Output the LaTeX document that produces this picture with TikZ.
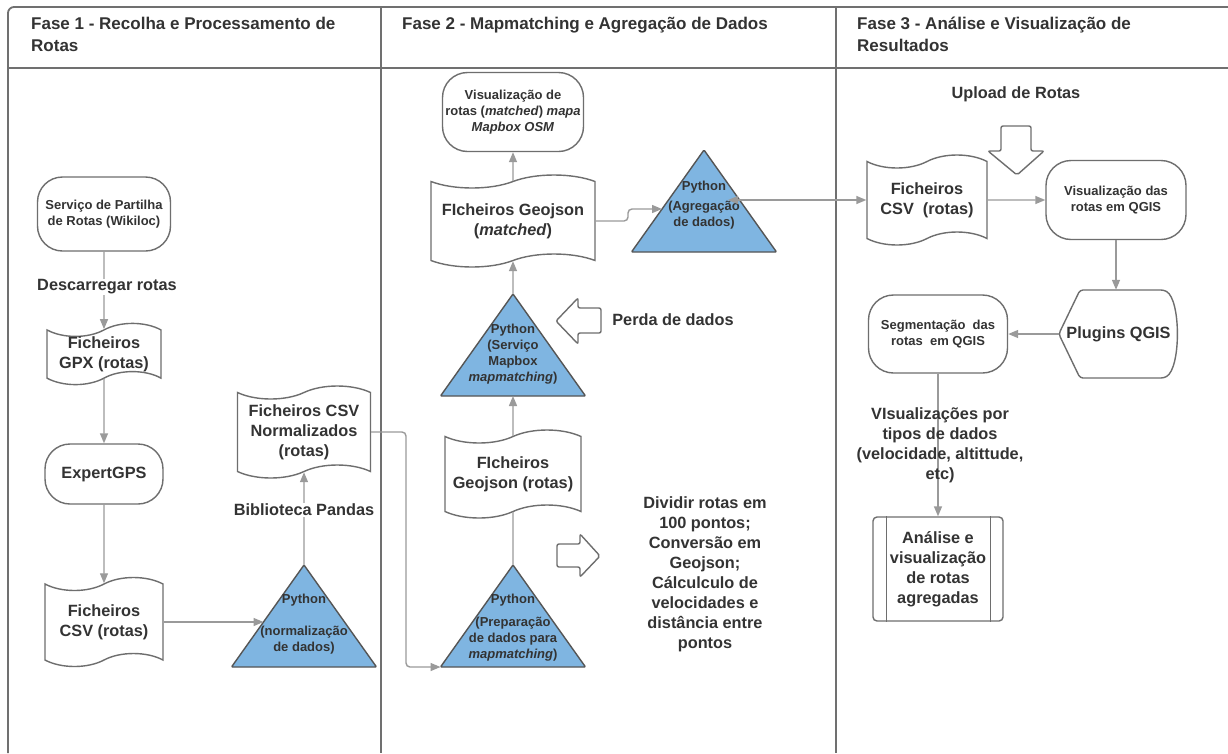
\documentclass[tikz,border=0pt]{standalone}
\usepackage{fontspec}
\setmainfont{Liberation Sans}
\usetikzlibrary{shapes.symbols,shapes.misc,arrows.meta,calc}
\definecolor{txt}{HTML}{333333}
\definecolor{edge}{HTML}{6E6E6E}
\definecolor{tedge}{HTML}{555555}
\definecolor{conn}{HTML}{9A9A9A}
\definecolor{frm}{HTML}{707070}
\definecolor{tfill}{HTML}{7FB5E1}
\tikzset{
  big/.style={font=\fontsize{16.3}{20}\selectfont\bfseries, text=txt, align=center},
  small/.style={font=\fontsize{13}{16}\selectfont\bfseries, text=txt, align=center},
  hdr/.style={font=\fontsize{17}{22}\selectfont\bfseries, text=txt, align=left, anchor=north west, inner sep=0pt},
  term/.style={draw=edge, line width=1.4pt, rounded corners=25pt, fill=white, inner sep=0pt},
  paper/.style={tape, draw=edge, line width=1.4pt, tape bend height=13pt, fill=white, inner sep=0pt},
  tri/.style={draw=tedge, fill=tfill, line width=1.4pt, rounded corners=1pt},
  blockarr/.style={draw=edge, fill=white, line width=1.4pt, rounded corners=2pt},
  arr/.style={draw=conn, line width=1.4pt, -{Triangle[length=10pt,width=8pt]}},
  ln/.style={draw=conn, line width=1.4pt},
  frame/.style={draw=frm, line width=1.8pt},
}
\newcommand\mytri[3]{%
  \coordinate (#1-t) at (#2,#3);
  \coordinate (#1-l) at ($(#2,#3)+(-72.5,102)$);
  \coordinate (#1-r) at ($(#2,#3)+(72.5,102)$);
  \coordinate (#1-b) at ($(#2,#3)+(0,102)$);
  \draw[tri] (#1-t) -- (#1-l) -- (#1-r) -- cycle;
}
\begin{document}
\begin{tikzpicture}[x=1pt,y=-1pt]
\useasboundingbox (0,0) rectangle (1228,753);
\fill[white] (0,0) rectangle (1228,753);
% frame
\draw[frame, rounded corners=6pt] (1228,7) -- (8,7) -- (8,753);
\draw[frame] (8,68) -- (1228,68);
\draw[frame] (381,7) -- (381,753);
\draw[frame] (836,7) -- (836,753);
\node[hdr] (h1) at (31,16.5) {Fase 1 - Recolha e Processamento de\\Rotas};
\node[hdr] (h2) at (402,16.5) {Fase 2 - Mapmatching e Agregação de Dados};
\node[hdr] (h3) at (857,16.5) {Fase 3 - Análise e Visualização de\\Resultados};

% ---------- Phase 1
\node[term, small, minimum width=133pt, minimum height=74pt] (serv) at (104,214) {Serviço de Partilha\\de Rotas (Wikiloc)};
\node[paper, big, minimum width=114pt, minimum height=58pt] (gpx) at (104,354) {Ficheiros\\GPX (rotas)};
\node[term, big, minimum width=118pt, minimum height=60pt] (exp) at (104,474) {ExpertGPS};
\node[paper, big, minimum width=118pt, minimum height=89pt] (csv1) at (104,622) {Ficheiros\\CSV (rotas)};
\mytri{t1}{304}{565}
\node[small] (p1) at (304,624) {Python\\[16pt](normalização\\de dados)};
\coordinate (t1-in) at (263.5,622);
\node[paper, big, minimum width=133pt, minimum height=92pt] (csvn) at (304,432) {Ficheiros CSV\\Normalizados\\(rotas)};

% ---------- Phase 2
\mytri{t2}{513}{565}
\node[small] (p2) at (513,627.5) {Python\\[7pt](Preparação\\de dados para\\\textit{mapmatching})};
\node[paper, big, minimum width=136pt, minimum height=88pt] (geo1) at (513,474) {FIcheiros\\Geojson (rotas)};
\mytri{t3}{513}{294}
\node[small] (p3) at (513,354) {Python\\(Serviço\\Mapbox\\\textit{mapmatching})};
\node[paper, big, minimum width=164pt, minimum height=92pt] (geom) at (513,221) {FIcheiros Geojson\\(\textit{matched})};
\node[term, small, minimum width=141pt, minimum height=79pt] (vis1) at (513,112) {Visualização de\\rotas (\textit{matched}) \textit{mapa}\\\textit{Mapbox OSM}};
\mytri{t4}{704}{150}
\node[small] (p4) at (704,205) {Python\\[4pt](Agregação\\de dados)};
\coordinate (t4-in) at (662,209);
\coordinate (t4-x) at (728,200);

% block arrows
\draw[blockarr] (556,321) -- (578,298) -- (578,308) -- (601,308) -- (601,333) -- (578,333) -- (578,344) -- cycle;
\node[big] (perda) at (673,320) {Perda de dados};
\draw[blockarr] (557,544) -- (580,544) -- (580,534) -- (600,556) -- (580,577) -- (580,567) -- (557,567) -- cycle;
\node[big] (div) at (705,574) {Dividir rotas em\\100 pontos;\\Conversão em\\Geojson;\\Cálculculo de\\velocidades e\\distância entre\\pontos};

% ---------- Phase 3
\node[big] (upl) at (1016,94) {Upload de Rotas};
\draw[blockarr] (1001,126) -- (1031,126) -- (1031,151) -- (1044,151) -- (1017,175) -- (988,151) -- (1001,151) -- cycle;
\node[paper, big, minimum width=120pt, minimum height=90pt] (csv3) at (927,200) {Ficheiros\\CSV~~(rotas)};
\node[term, small, minimum width=140pt, minimum height=79pt] (vis3) at (1116,200) {Visualização das\\rotas em QGIS};
\node[big, minimum width=119pt, minimum height=88pt, inner sep=0pt] (plug) at (1118.5,334) {Plugins QGIS};
\draw[draw=edge, line width=1.4pt, rounded corners=3pt] (plug.west) -- (1080,290) -- (1164,290)
  .. controls (1181,300) and (1181,368) .. (1164,378) -- (1080,378) -- cycle;
\node[term, small, minimum width=139pt, minimum height=78pt] (seg) at (938,334) {Segmentação~~das\\rotas~~em QGIS};
\node[draw=edge, line width=1.4pt, rounded corners=4pt, minimum width=130pt, minimum height=104pt, big, inner sep=0pt] (ana) at (938,569) {Análise e\\visualização\\de rotas\\agregadas};
\draw[draw=edge, line width=1.4pt] ($(ana.north west)+(14,0)$) -- ($(ana.south west)+(14,0)$);
\draw[draw=edge, line width=1.4pt] ($(ana.north east)+(-13,0)$) -- ($(ana.south east)+(-13,0)$);

% ---------- connectors
\draw[arr] (serv) -- (gpx);
\node[big, fill=white, inner sep=1pt] (l1) at (107,287) {Descarregar rotas};
\draw[arr] (gpx) -- (exp);
\draw[arr] (exp) -- (csv1);
\draw[arr] (csv1.east) -- (t1-in);
\draw[arr] (t1-t) -- (csvn);
\node[big, fill=white, inner sep=1pt] (l2) at (304,510) {Biblioteca Pandas};
\draw[arr, rounded corners=4pt] (csvn.east) -- (406,432) |- (t2-l);
\draw[ln] (t2-t) -- (geo1);
\draw[arr] (geo1) -- (t3-b);
\draw[arr] (t3-t) -- (geom);
\draw[arr] (geom) -- (vis1);
\draw[arr, rounded corners=4pt] (geom.east) -- (628,221) -- (628,209) -- (t4-in);
\draw[ln, {Triangle[length=10pt,width=8pt]}-{Triangle[length=10pt,width=8pt]}] (t4-x) -- (csv3.west);
\draw[arr] (csv3) -- (vis3);
\draw[arr] (vis3.south) -- (vis3.south |- plug.north);
\draw[arr] (plug.west) -- (plug.west -| seg.east);
\draw[arr] (seg) -- (ana);
\node[big] (l6) at (940,445) {VIsualizações por\\tipos de dados\\(velocidade, altittude,\\etc)};
\end{tikzpicture}
\end{document}
